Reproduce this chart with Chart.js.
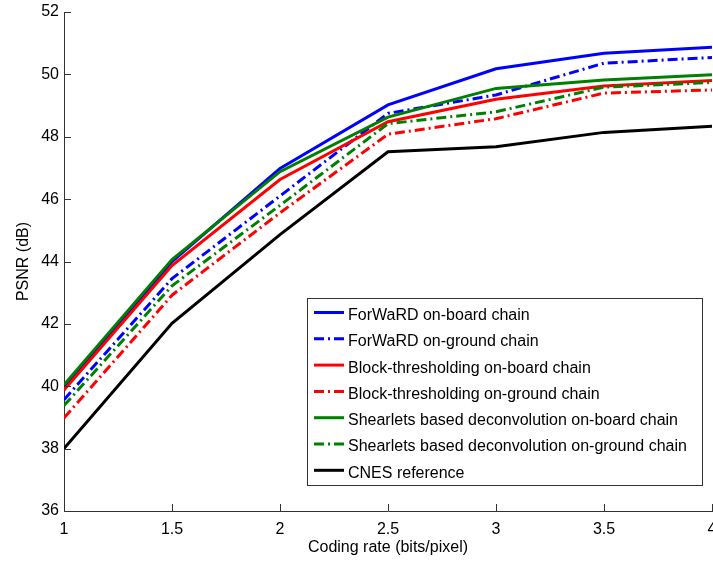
<!DOCTYPE html>
<html>
<head>
<meta charset="utf-8">
<script src="https://cdn.jsdelivr.net/npm/chart.js@4/dist/chart.umd.min.js"></script>
<style>
html,body{margin:0;padding:0;background:#fff;}
#wrap{position:relative;width:713px;height:567px;}
</style>
</head>
<body>
<div id="wrap"><canvas id="c" width="713" height="567"></canvas></div>
<script>
// ---- data ----
const codingRates = [1, 1.5, 2, 2.5, 3, 3.5, 4];
const forwardOnBoard   = [39.95, 44.00, 46.98, 49.02, 50.18, 50.68, 50.87];
const forwardOnGround  = [39.57, 43.45, 46.10, 48.75, 49.34, 50.36, 50.54];
const blockOnBoard     = [39.88, 43.87, 46.63, 48.48, 49.20, 49.63, 49.80];
const blockOnGround    = [38.98, 42.92, 45.56, 48.08, 48.58, 49.40, 49.50];
const shearOnBoard     = [40.05, 44.06, 46.88, 48.63, 49.55, 49.82, 49.99];
const shearOnGround    = [39.38, 43.22, 45.80, 48.42, 48.80, 49.59, 49.74];
const cnesReference    = [38.00, 42.02, 44.86, 47.52, 47.68, 48.14, 48.34];
const seriesNames = [
  'ForWaRD on-board chain',
  'ForWaRD on-ground chain',
  'Block-thresholding on-board chain',
  'Block-thresholding on-ground chain',
  'Shearlets based deconvolution on-board chain',
  'Shearlets based deconvolution on-ground chain',
  'CNES reference'
];
const xTickValues = [1, 1.5, 2, 2.5, 3, 3.5, 4];
const yTickValues = [36, 38, 40, 42, 44, 46, 48, 50, 52];
const xTitle = 'Coding rate (bits/pixel)';
const yTitle = 'PSNR (dB)';

// ---- styles ----
const FONT = '"Liberation Sans", Arial, Helvetica, sans-serif';
const DASHDOT = [10, 4, 2, 4];
const styles = [
  {color: '#0000ff', dash: []},
  {color: '#0000ff', dash: DASHDOT},
  {color: '#ff0000', dash: []},
  {color: '#ff0000', dash: DASHDOT},
  {color: '#008000', dash: []},
  {color: '#008000', dash: DASHDOT},
  {color: '#000000', dash: []}
];
const allSeries = [forwardOnBoard, forwardOnGround, blockOnBoard, blockOnGround, shearOnBoard, shearOnGround, cnesReference];

const datasets = allSeries.map((vals, i) => ({
  label: seriesNames[i],
  data: codingRates.map((x, k) => ({x: x, y: vals[k]})),
  borderColor: styles[i].color,
  backgroundColor: styles[i].color,
  borderDash: styles[i].dash,
  borderWidth: 3,
  pointRadius: 0,
  fill: false,
  tension: 0,
  order: 7 - i
}));

const inwardTicks = {
  id: 'inwardTicks',
  afterDatasetsDraw(chart) {
    const ctx = chart.ctx, xs = chart.scales.x, ys = chart.scales.y;
    const a = chart.chartArea;
    ctx.save();
    ctx.strokeStyle = '#333';
    ctx.lineWidth = 1;
    ctx.beginPath();
    xTickValues.forEach(v => {
      const px = Math.round(xs.getPixelForValue(v)) + 0.5;
      ctx.moveTo(px, a.bottom); ctx.lineTo(px, a.bottom - 7);
    });
    yTickValues.forEach(v => {
      const py = Math.round(ys.getPixelForValue(v)) + 0.5;
      ctx.moveTo(a.left, py); ctx.lineTo(a.left + 7, py);
    });
    ctx.stroke();
    ctx.restore();
  }
};

const boxLegend = {
  id: 'boxLegend',
  afterDraw(chart) {
    const ctx = chart.ctx;
    const bx = 307.5, by = 298.5, bw = 395, bh = 187;
    ctx.save();
    ctx.fillStyle = '#fff';
    ctx.fillRect(bx, by, bw, bh);
    ctx.strokeStyle = '#333';
    ctx.lineWidth = 1;
    ctx.strokeRect(bx, by, bw, bh);
    const rowH = 26.3;
    ctx.font = '16px ' + FONT;
    ctx.textBaseline = 'middle';
    ctx.textAlign = 'left';
    seriesNames.forEach((name, i) => {
      const cy = 312.5 + i * rowH;
      ctx.beginPath();
      ctx.setLineDash(styles[i].dash);
      ctx.strokeStyle = styles[i].color;
      ctx.lineWidth = 3;
      ctx.moveTo(314, cy); ctx.lineTo(344, cy);
      ctx.stroke();
      ctx.setLineDash([]);
      ctx.fillStyle = '#000';
      ctx.fillText(name, 348, cy + 3);
    });
    ctx.restore();
  }
};

new Chart(document.getElementById('c'), {
  type: 'line',
  data: {datasets: datasets},
  options: {
    responsive: false,
    animation: false,
    devicePixelRatio: 1,
    layout: {padding: {top: 12, right: 1, left: 0, bottom: 0}},
    plugins: {legend: {display: false}, tooltip: {enabled: false}},
    scales: {
      x: {
        type: 'linear',
        min: 1, max: 4,
        afterBuildTicks(s) { s.ticks = xTickValues.map(v => ({value: v})); },
        afterFit(s) { s.height = 56; s.paddingLeft = 0; s.paddingRight = 0; },
        ticks: {
          color: '#000', padding: 9, maxRotation: 0, autoSkip: false,
          font: {family: FONT, size: 16},
          callback: v => String(v)
        },
        grid: {display: false, drawTicks: false},
        border: {display: true, color: '#333', width: 1},
        title: {display: true, text: xTitle, color: '#000', font: {family: FONT, size: 16}, padding: {top: 0, bottom: 10}}
      },
      y: {
        type: 'linear',
        min: 36, max: 52,
        afterBuildTicks(s) { s.ticks = yTickValues.map(v => ({value: v})); },
        afterFit(s) { s.width = 64; s.paddingTop = 0; s.paddingBottom = 0; },
        ticks: {
          color: '#000', padding: 5, autoSkip: false,
          font: {family: FONT, size: 16},
          callback: v => String(v)
        },
        grid: {display: false, drawTicks: false},
        border: {display: true, color: '#333', width: 1},
        title: {display: true, text: yTitle, color: '#000', font: {family: FONT, size: 16}, padding: {top: 14, bottom: 0}}
      }
    }
  },
  plugins: [inwardTicks, boxLegend]
});
</script>
</body>
</html>
